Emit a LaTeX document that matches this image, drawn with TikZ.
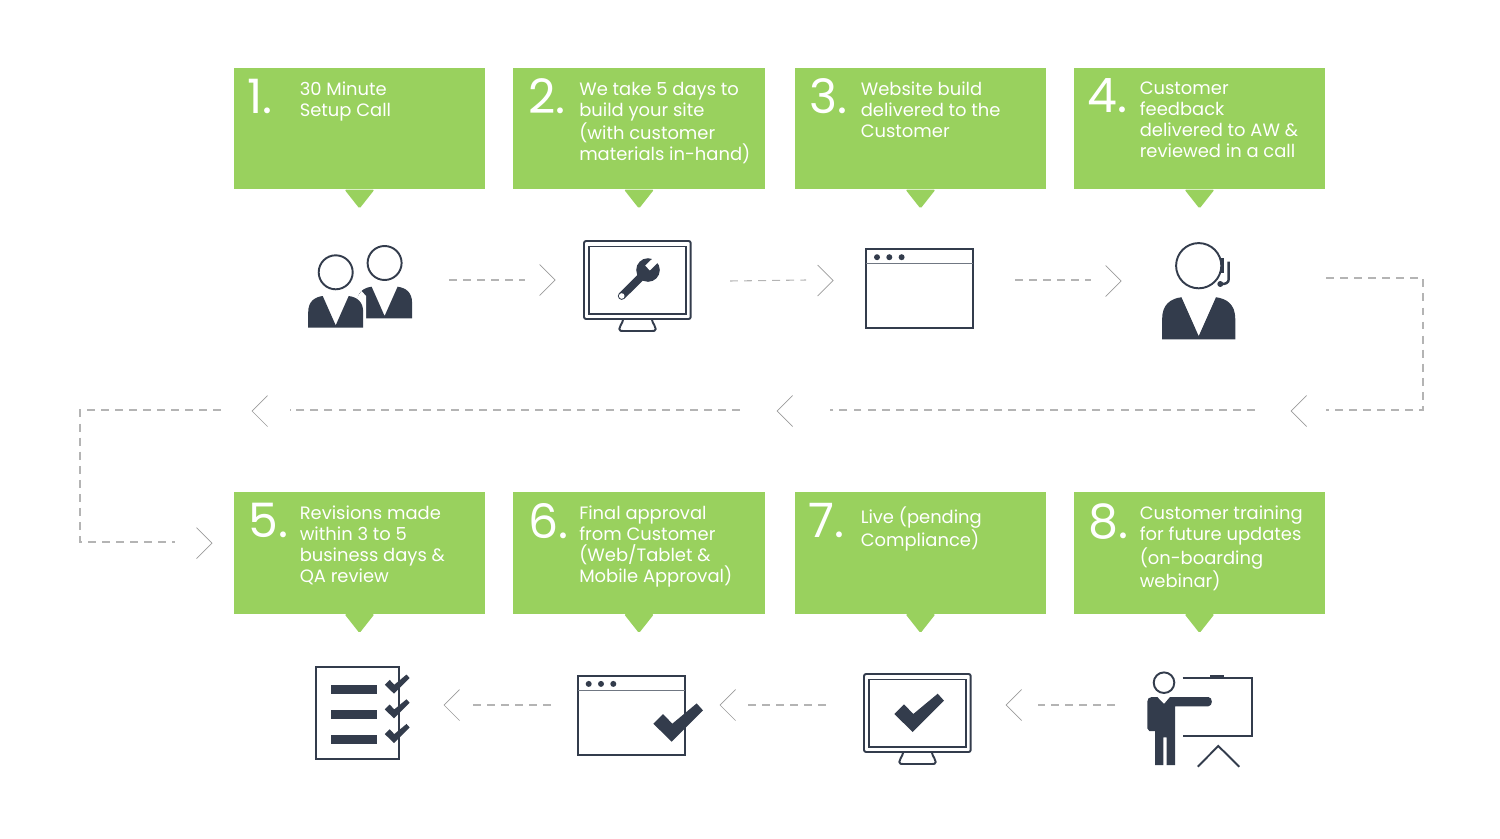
\documentclass[tikz,border=0pt]{standalone}
\usepackage{fontspec}
\setmainfont{Poppins}
\usetikzlibrary{positioning,calc}
\definecolor{stepgreen}{HTML}{99D15E}
\definecolor{icondark}{HTML}{333C4C}
\definecolor{dashgrey}{HTML}{B4B4B4}
\definecolor{chevgrey}{HTML}{9A9A9A}
\newcommand{\bustpath}{(-27.5,55.4) -- (-27.5,40) .. controls (-27.5,29) and (-21,24.8) .. (-13,23.7) -- (0,53) -- (13,23.7) .. controls (21,24.8) and (27.5,29) .. (27.5,40) -- (27.5,55.4) -- cycle}
\tikzset{
  stepbox/.style={fill=stepgreen, inner sep=0pt, minimum width=5.03cm, minimum height=2.43cm},
  steptext/.style={text=white, anchor=north west, inner sep=0pt, align=left, font=\fontsize{10.2}{11.95}\selectfont},
  stepnum/.style={text=white, anchor=north west, inner sep=0pt, font=\fontsize{27}{27}\selectfont},
  flowdash/.style={dashgrey, line width=0.6pt, dash pattern=on 4.5pt off 3.5pt},
  chev/.style={chevgrey, line width=0.4pt},
  iconline/.style={icondark, line width=1.1pt},
  bust/.pic={
    \draw[iconline] (0,0) circle (17);
    \fill[icondark] \bustpath;
  },
  tick/.pic={
    \fill[icondark] (0,0) -- (-18.4,-18) -- (-8.7,-27.7) -- (0.6,-18) -- (25,-38.3) -- (31.3,-31.3) -- cycle;
  },
  monitor/.pic={
    \draw[iconline, rounded corners=1.2pt] (0,0) rectangle (106.7,78);
    \draw[iconline] (5.3,5.5) rectangle (101.7,73);
    \draw[iconline, line join=round] (39.3,78) .. controls (38,84) and (35,85) .. (35.3,88) .. controls (35.5,90) and (37,90) .. (39,90) -- (68,90) .. controls (70,90) and (71.5,90) .. (71.7,88) .. controls (72,85) and (69,84) .. (67.7,78);
  },
  browser/.pic={
    \draw[iconline] (0,0) rectangle (107,78.7);
    \draw[icondark!70, line width=0.8pt] (0,14.4) -- (107,14.4);
    \foreach \dotx in {10.7,23,35.3} {
      \fill[icondark] (\dotx,7.9) circle (3);
    }
  }
}

\begin{document}
\begin{tikzpicture}[x=0.02cm, y=-0.02cm]
  \useasboundingbox (0,0) rectangle (1500,838);

  % Green step boxes with their tails
  \foreach \i/\xpos/\ypos/\xtxt/\xnum/\txt in {
    1/359.5/128.5/66/14/{30 Minute\\Setup Call},
    2/639/128.5/66/15/{We take 5 days to\\build your site\\(with customer\\materials in-hand)},
    3/920.5/128.5/66/15/{Website build\\delivered to the\\Customer},
    4/1199.5/128.5/66/14/{Customer\\feedback\\delivered to AW \&\\reviewed in a call},
    5/359.5/553/66/15/{Revisions made\\within 3 to 5\\business days \&\\QA review},
    6/639/553/66/15/{Final approval\\from Customer\\(Web/Tablet \&\\Mobile Approval)},
    7/920.5/553/66/14/{Live (pending\\Compliance)},
    8/1199.5/553/66/15/{Customer training\\for future updates\\(on-boarding\\webinar)}} {
    \node[stepbox] (box\i) at (\xpos, \ypos) {};
    \fill[stepgreen, rounded corners=0.8pt] ($(box\i.south)+(-15,0)$) -- ($(box\i.south)+(0,19)$) -- ($(box\i.south)+(15,0)$) -- cycle;
    \node[stepnum] (num\i) at ($(box\i.north west)+(\xnum,11)$) {\i.};
    \node[steptext] (txt\i) at ($(box\i.north west)+(\xtxt,14)$) {\txt};
  }

  % Dashed runs between the icons
  \foreach \i/\xa/\ya/\xb/\yb in {1/449/280/525/280, 2/730/281/806/280, 3/1015/280/1091/280,
    4/1255/410/830/410, 5/740/410/290/410, 6/551/705/473/705, 7/826/705/748/705, 8/1115/705/1038/705} {
    \coordinate (dashstart\i) at (\xa, \ya);
    \coordinate (dashend\i) at (\xb, \yb);
    \draw[flowdash] (dashstart\i) -- (dashend\i);
  }

  % Row changes
  \coordinate (turnRa) at (1326, 278);
  \coordinate (turnRb) at (1423, 278);
  \coordinate (turnRc) at (1423, 410);
  \coordinate (turnRd) at (1326, 410);
  \draw[flowdash] (turnRa) -- (turnRb) -- (turnRc) -- (turnRd);
  \coordinate (turnLa) at (221, 410);
  \coordinate (turnLb) at (80, 410);
  \coordinate (turnLc) at (80, 542);
  \coordinate (turnLd) at (175, 542);
  \draw[flowdash] (turnLa) -- (turnLb) -- (turnLc) -- (turnLd);

  % Chevrons
  \foreach \i/\xpos/\ypos/\dir in {1/555/280/1, 2/833/280.5/1, 3/1121/281/1, 4/212/543/1,
    5/1291/411/-1, 6/777/411/-1, 7/252/411/-1, 8/444/705/-1, 9/720/705/-1, 10/1006/705/-1} {
    \coordinate (tip\i) at (\xpos, \ypos);
    \draw[chev] ($(tip\i)+(-15.5*\dir,-15.5)$) -- (tip\i) -- ($(tip\i)+(-15.5*\dir,15.5)$);
  }

  % Step 1: two people
  \pic at (384.6, 263) {bust};
  \fill[white] (358, 296) -- (361.5,291) -- (366,296) -- (366,330) -- (358,330) -- cycle;
  \draw[white, line width=1.6pt] [shift={(335.7,272.3)}] \bustpath;
  \pic at (335.7, 272.3) {bust};

  % Step 2: monitor with wrench
  \pic at (584, 241) {monitor};
  \draw[icondark, line width=4.4pt, line cap=round] (621.7, 296) -- (645, 273);
  \fill[icondark] (648, 270) circle (11.8);
  \draw[white, line width=3.8pt] (647.5, 268) -- (661, 255);
  \fill[white] (621.7, 296) circle (2.8);

  % Step 3: browser window
  \pic at (866.3, 249.3) {browser};

  % Step 4: agent with headset
  \pic[scale=1.33] at (1198.7, 265.7) {bust};
  \fill[icondark] (1220.7, 258.3) rectangle (1224.3, 272.7);
  \draw[icondark, line width=1.4pt] (1228.7, 261.7) -- (1228.7, 279) .. controls (1228.7, 283) and (1226, 284) .. (1221, 284);
  \fill[icondark] (1220.3, 284) circle (3);

  % Step 5: checklist
  \draw[iconline] (316, 667.3) rectangle (399.3, 759);
  \foreach \ybar in {685.3, 710, 734.7} {
    \fill[icondark] (330.7, \ybar) rectangle (376.7, \ybar + 9);
    \pic[scale=0.5] at (394, \ybar + 8.4) {tick};
  }

  % Step 6: browser window with tick
  \pic at (578, 676) {browser};
  \pic at (671.7, 741.7) {tick};

  % Step 7: monitor with tick
  \pic at (864, 674) {monitor};
  \pic at (912.7, 732) {tick};

  % Step 8: presenter at a board
  \draw[iconline] (1164, 682.7) circle (10.3);
  \draw[iconline] (1182.7, 678.3) -- (1251.7, 678.3) -- (1251.7, 736.3) -- (1182.7, 736.3);
  \fill[icondark] (1209.7, 675) rectangle (1224, 678.3);
  \draw[iconline] (1197.7, 766.7) -- (1218.3, 746) -- (1239.3, 766.7);
  \fill[icondark] (1151.7,697) -- (1157.3,697) -- (1164,704) -- (1170,697) -- (1208.3,697)
    .. controls (1213,697) and (1213,706.3) .. (1208.3,706.3) -- (1175,706.3) -- (1175,765)
    -- (1166.7,765) -- (1166.7,737.3) -- (1163.3,737.3) -- (1163.3,765) -- (1155,765) -- (1155,731)
    -- (1149.3,731) -- (1147.3,728.3) -- (1147.3,701.7) .. controls (1147.3,699) and (1149,697) .. (1151.7,697) -- cycle;
\end{tikzpicture}
\end{document}
